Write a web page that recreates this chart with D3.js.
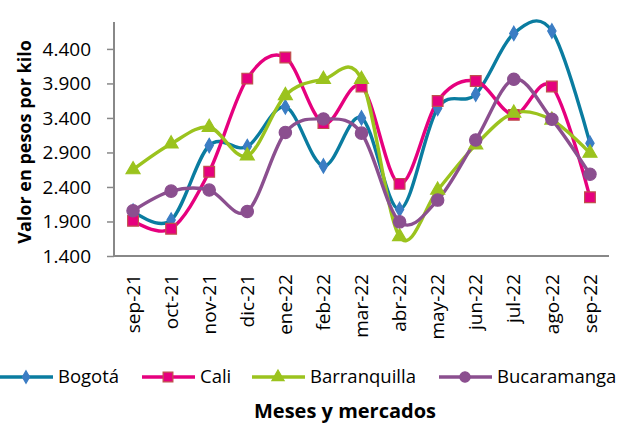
<!DOCTYPE html>
<html><head><meta charset="utf-8">
<script src="https://cdn.jsdelivr.net/npm/d3@7"></script>
<style>body{margin:0;background:#fff}svg{display:block;font-family:"Open Sans",sans-serif}</style>
</head><body><svg id="c" width="626" height="423"></svg>
<script>
const months = ["sep-21","oct-21","nov-21","dic-21","ene-22","feb-22","mar-22","abr-22","may-22","jun-22","jul-22","ago-22","sep-22"];
const bogota = [2050,1920,3000,2985,3560,2705,3400,2075,3540,3745,4625,4660,3035];
const cali = [1910,1795,2620,3970,4275,3325,3855,2445,3645,3935,3445,3855,2250];
const barranquilla = [2650,3025,3265,2850,3725,3960,3960,1680,2355,3010,3470,3370,2890];
const bucaramanga = [2055,2340,2355,2045,3190,3385,3180,1895,2210,3080,3960,3380,2585];
const yTicks = [1400,1900,2400,2900,3400,3900,4400];
const seriesNames = ["Bogotá","Cali","Barranquilla","Bucaramanga"];

const series = [
  {name:seriesNames[0], values:bogota, color:"#0a7ca0", mfill:"#3b7dc4", mstroke:"#3b7dc4", shape:d3.symbolDiamond, msize:60, lsize:45},
  {name:seriesNames[1], values:cali, color:"#e6007e", mfill:"#e6007e", mstroke:"#c0504d", shape:d3.symbolSquare, msize:115, lsize:95},
  {name:seriesNames[2], values:barranquilla, color:"#9bc31e", mfill:"#9bc31e", mstroke:"#9bc31e", shape:d3.symbolTriangle, msize:85, lsize:65},
  {name:seriesNames[3], values:bucaramanga, color:"#8b4f8f", mfill:"#8b4f8f", mstroke:"#8b4f8f", shape:d3.symbolCircle, msize:120, lsize:85}
];

const svg = d3.select("#c");
const pL=114, pR=609, pT=22, pB=256;
const x = d3.scaleBand().domain(months).range([pL,pR]);
const y = d3.scaleLinear().domain([1400,4790]).range([pB,pT]);

// axes
const yAxis = svg.append("g").attr("transform",`translate(${pL},0)`)
  .call(d3.axisLeft(y).tickValues(yTicks).tickSize(7).tickPadding(16).tickFormat(d=>d3.format(",")(d).replace(/,/g,".")));
yAxis.select(".domain").attr("stroke","#888").attr("stroke-width",2).attr("d",`M0,${pT}V${pB}`);
yAxis.selectAll(".tick line").attr("stroke","#888").attr("stroke-width",1.5);
yAxis.selectAll(".tick text").attr("font-size",19).attr("fill","#000").attr("font-family","Open Sans");

const xAxis = svg.append("g").attr("transform",`translate(0,${pB})`)
  .call(d3.axisBottom(x).tickSize(0).tickPadding(0));
xAxis.select(".domain").attr("stroke","#888").attr("stroke-width",2).attr("d",`M${pL-1},0H${pR}`);
xAxis.selectAll(".tick text").attr("font-size",19).attr("fill","#000").attr("font-family","Open Sans")
  .attr("transform","rotate(-90)").attr("text-anchor","end").attr("x",-18).attr("y",0).attr("dy","0.35em");

const line = d3.line().x((d,i)=>x(months[i])+x.bandwidth()/2).y(d=>y(d)).curve(d3.curveCatmullRom.alpha(0));
const plot = svg.append("g");
series.forEach(s=>{
  plot.append("path").attr("d",line(s.values)).attr("fill","none").attr("stroke",s.color).attr("stroke-width",3.4);
});
series.forEach(s=>{
  plot.selectAll(null).data(s.values).enter().append("path")
    .attr("d",d3.symbol().type(s.shape).size(s.msize))
    .attr("transform",(d,i)=>`translate(${x(months[i])+x.bandwidth()/2},${y(d)})`)
    .attr("fill",s.mfill).attr("stroke",s.mstroke).attr("stroke-width",1.2);
});

// legend
const legX = [0,142,252,439];
const leg = svg.append("g").attr("transform","translate(0,377)");
series.forEach((s,i)=>{
  const g = leg.append("g").attr("transform",`translate(${legX[i]},0)`);
  g.append("line").attr("x1",0).attr("x2",53).attr("y1",0).attr("y2",0).attr("stroke",s.color).attr("stroke-width",3.4);
  g.append("path").attr("d",d3.symbol().type(s.shape).size(s.lsize)).attr("transform","translate(26,0)")
    .attr("fill",s.mfill).attr("stroke",s.mstroke).attr("stroke-width",1.2);
  g.append("text").attr("x",58).attr("y",0).attr("dy","0.35em").attr("font-size",18.5).text(s.name);
});

svg.append("text").attr("x",345).attr("y",418).attr("text-anchor","middle").attr("font-weight","bold").attr("font-size",20).text("Meses  y mercados");
svg.append("text").attr("transform","translate(31,142) rotate(-90)").attr("text-anchor","middle").attr("font-weight","bold").attr("font-size",18).text("Valor en pesos por kilo");
</script></body></html>
